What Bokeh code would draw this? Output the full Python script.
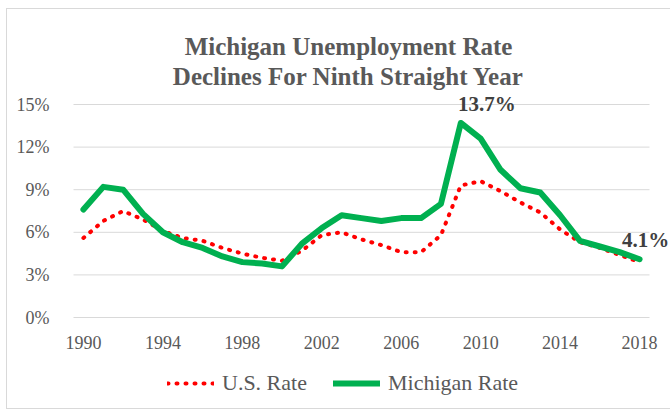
from bokeh.plotting import figure
from bokeh.models import (Range1d, FixedTicker, PrintfTickFormatter, Label,
                          Legend, LegendItem, ColumnDataSource)
from bokeh.embed import file_html
from bokeh.resources import INLINE

years = list(range(1990, 2019))
us_rate = [5.6, 6.8, 7.5, 6.9, 6.1, 5.6, 5.4, 4.9, 4.5, 4.2, 4.0, 4.7, 5.8, 6.0,
           5.5, 5.1, 4.6, 4.6, 5.8, 9.3, 9.6, 8.9, 8.1, 7.4, 6.2, 5.3, 4.9, 4.4, 3.9]
mi_rate = [7.6, 9.2, 9.0, 7.3, 6.0, 5.3, 4.9, 4.3, 3.9, 3.8, 3.6, 5.2, 6.3, 7.2,
           7.0, 6.8, 7.0, 7.0, 8.0, 13.7, 12.6, 10.4, 9.1, 8.8, 7.2, 5.4, 5.0, 4.6, 4.1]
y_ticks = [0, 3, 6, 9, 12, 15]
x_ticks = [1990, 1994, 1998, 2002, 2006, 2010, 2014, 2018]
title_lines = ["Michigan Unemployment Rate", "Declines For Ninth Straight Year"]

FONT = "Liberation Serif"
GRAY = "#595959"
W, H = 670, 410
LEFT = 73                 # pixel column where the category span starts
PX_YEAR = 576 / 29        # px per year on the category axis
PX_PCT = 213 / 15         # px per percentage point
Y0 = 317                  # pixel row of 0%

x_lo = years[0] - 0.5
x_start = x_lo - LEFT / PX_YEAR
x_end = x_start + W / PX_YEAR
y_end = 15 + 104 / PX_PCT
y_start = -(H - Y0) / PX_PCT

p = figure(width=W, height=H, output_backend="svg", toolbar_location=None,
           x_range=Range1d(x_start, x_end), y_range=Range1d(y_start, y_end),
           min_border_left=0, min_border_right=0, min_border_top=0,
           min_border_bottom=0)
grad = "linear-gradient(#d9d9d9,#d9d9d9)"
p.styles = {"background": f"{grad} 6px 8px / 1px 401px no-repeat, "
                          f"{grad} 6px 8px / 664px 1px no-repeat, "
                          f"{grad} 6px 408px / 664px 1px no-repeat, white"}
p.outline_line_color = None
p.background_fill_alpha = 0
p.border_fill_alpha = 0

p.xgrid.grid_line_color = None
p.ygrid.grid_line_color = None
p.yaxis.ticker = FixedTicker(ticks=y_ticks)
p.yaxis.formatter = PrintfTickFormatter(format="%d%%")
p.yaxis.fixed_location = x_lo
p.xaxis.ticker = FixedTicker(ticks=x_ticks)
p.xaxis.fixed_location = 0
for ax in (p.xaxis[0], p.yaxis[0]):
    ax.axis_line_color = None
    ax.major_tick_line_color = None
    ax.minor_tick_line_color = None
    ax.major_label_text_font = FONT
    ax.major_label_text_font_size = "18px"
    ax.major_label_text_color = GRAY
p.yaxis.major_label_standoff = 18
p.xaxis.major_label_standoff = 12

# horizontal gridlines across the category span
p.segment(x0=[x_lo] * len(y_ticks), x1=[years[-1] + 0.5] * len(y_ticks),
          y0=y_ticks, y1=y_ticks, line_color="#d9d9d9", line_width=1)

src = ColumnDataSource(dict(year=years, us=us_rate, mi=mi_rate))
r_us = p.line("year", "us", source=src, line_color="#FF0000", line_width=4,
              line_dash="1 8", line_cap="round")
r_mi = p.line("year", "mi", source=src, line_color="#00B050", line_width=6,
              line_join="round", line_cap="round")

# annotations for peak and latest Michigan values
i_max = mi_rate.index(max(mi_rate))
for i, dx in ((i_max, 26), (len(years) - 1, 6)):
    p.add_layout(Label(x=years[i], y=mi_rate[i], text=f"{mi_rate[i]:.1f}%",
                       x_offset=dx, y_offset=19, text_align="center",
                       text_baseline="alphabetic", text_font=FONT,
                       text_font_style="bold", text_font_size="21px",
                       text_color="#404040"))

# title lines
for txt, off in zip(title_lines, (58, 28)):
    p.add_layout(Label(x=x_lo, y=15, text=txt, x_offset=275,
                       y_offset=off, text_align="center",
                       text_baseline="alphabetic", text_font=FONT,
                       text_font_style="bold", text_font_size="25px",
                       text_color=GRAY))

legend = Legend(items=[LegendItem(label="U.S. Rate", renderers=[r_us]),
                       LegendItem(label="Michigan Rate", renderers=[r_mi])],
                orientation="horizontal", location=(167, 14),
                glyph_width=47, glyph_height=22, label_standoff=8, spacing=26,
                padding=0, margin=0, border_line_color=None,
                background_fill_alpha=0,
                label_text_font=FONT, label_text_font_size="22px",
                label_text_color=GRAY)
p.add_layout(legend)

open("out.html", "w").write(file_html(p, INLINE))
